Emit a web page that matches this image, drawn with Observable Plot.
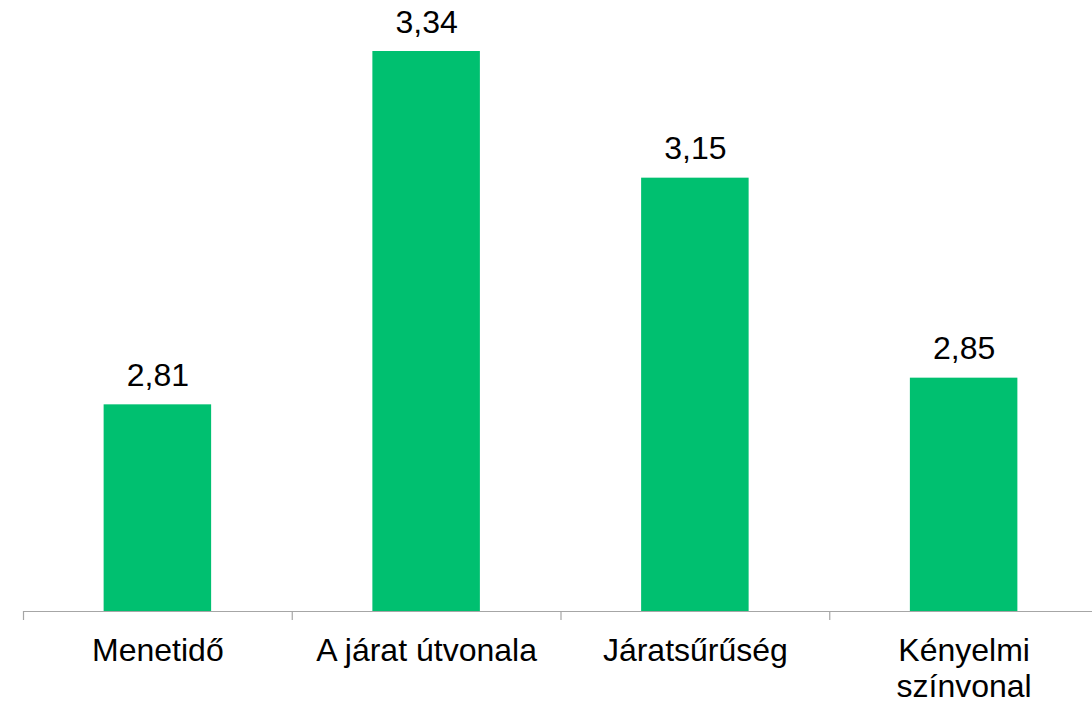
<!DOCTYPE html>
<html>
<head>
<meta charset="utf-8">
<script src="https://cdn.jsdelivr.net/npm/d3@7"></script>
<script src="https://cdn.jsdelivr.net/npm/@observablehq/plot@0.6"></script>
<style>
  html, body { margin: 0; padding: 0; background: #fff; }
  #chart svg { display: block; }
</style>
</head>
<body>
<div id="chart"></div>
<script>
const categories = ["Menetidő", "A járat útvonala", "Járatsűrűség", "Kényelmi\nszínvonal"];
const values = [2.81, 3.34, 3.15, 2.85];
const yMin = 2.5;
const yMax = 3.4;
const boundaries = [0, 1, 2, 3, 4];

const data = categories.map((c, i) => ({i, category: c, value: values[i], label: values[i].toFixed(2).replace(".", ",")}));

const chart = Plot.plot({
  width: 1092,
  height: 701,
  marginLeft: 23,
  marginRight: 0,
  marginTop: 11,
  marginBottom: 90,
  style: {fontFamily: "'Liberation Sans', Arial, sans-serif", background: "#fff"},
  x: {domain: [0, 4], range: [23, 1098], axis: null},
  y: {domain: [yMin, yMax], axis: null},
  marks: [
    Plot.rectY(data, {x1: d => d.i + 0.3, x2: d => d.i + 0.7, y1: yMin, y2: "value", fill: "#00C070"}),
    Plot.ruleY([yMin], {stroke: "#A6A6A6", strokeWidth: 1.2}),
    Plot.axisX({ticks: boundaries, tickSize: 9, tickFormat: () => "", stroke: "#A6A6A6", strokeWidth: 1.2}),
    Plot.text(data, {x: d => d.i + 0.5, y: "value", text: "label", lineAnchor: "bottom", dy: -19, fontSize: 32, fill: "#000"}),
    Plot.text(data, {x: d => d.i + 0.5, y: yMin, text: "category", lineAnchor: "top", dy: 23, fontSize: 32, lineHeight: 1.15, fill: "#000"})
  ]
});
document.getElementById("chart").appendChild(chart);
</script>
</body>
</html>
